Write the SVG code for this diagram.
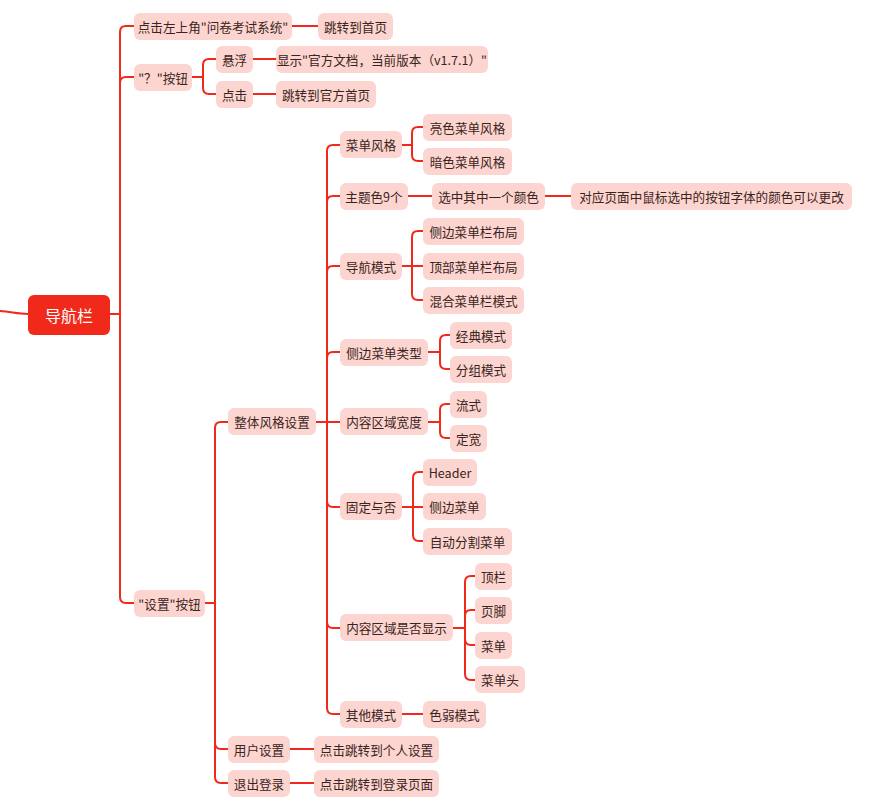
<svg xmlns="http://www.w3.org/2000/svg" width="889" height="807" viewBox="0 0 889 807">
<style>
.b{fill:#fdd5d0}
.t{font-family:"Noto Sans CJK SC","Noto Sans",sans-serif;font-size:12.6px;fill:#3a2420;text-anchor:middle;dominant-baseline:central}
.c{fill:none;stroke:#f0291b;stroke-width:2;stroke-linejoin:round;stroke-linecap:round}
</style>
<rect width="889" height="807" fill="#ffffff"/>
<g id="connectors" class="c">
<path d="M0,311 C12,312 18,314 28,314"/>
<path d="M110,314 H120 V32 Q120,26 126,26 H134"/>
<path d="M110,314 H120 V83 Q120,77 126,77 H134"/>
<path d="M110,314 H120 V597 Q120,603 126,603 H134"/>
<path d="M292,26 H318"/>
<path d="M192,77 H203 V65 Q203,59 209,59 H216"/>
<path d="M192,77 H203 V88 Q203,94 209,94 H216"/>
<path d="M253,59 H276"/>
<path d="M253,94 H276"/>
<path d="M205,603 H215 V428 Q215,422 221,422 H228"/>
<path d="M205,603 H215 V743 Q215,749 221,749 H228"/>
<path d="M205,603 H215 V777 Q215,783 221,783 H228"/>
<path d="M290,749 H314"/>
<path d="M290,783 H314"/>
<path d="M316,422 H327 V151 Q327,145 333,145 H340"/>
<path d="M316,422 H327 V202 Q327,196 333,196 H340"/>
<path d="M316,422 H327 V272 Q327,266 333,266 H340"/>
<path d="M316,422 H327 V358 Q327,352 333,352 H340"/>
<path d="M316,422 H340"/>
<path d="M316,422 H327 V501 Q327,507 333,507 H340"/>
<path d="M316,422 H327 V622 Q327,628 333,628 H340"/>
<path d="M316,422 H327 V708 Q327,714 333,714 H340"/>
<path d="M402,145 H412 V133 Q412,127 418,127 H423"/>
<path d="M402,145 H412 V155 Q412,161 418,161 H423"/>
<path d="M408,196 H432"/>
<path d="M545,196 H571"/>
<path d="M402,266 H412 V237 Q412,231 418,231 H423"/>
<path d="M402,266 H423"/>
<path d="M402,266 H412 V294 Q412,300 418,300 H423"/>
<path d="M428,352 H440 V341 Q440,335 446,335 H450"/>
<path d="M428,352 H440 V363 Q440,369 446,369 H450"/>
<path d="M428,422 H440 V410 Q440,404 446,404 H450"/>
<path d="M428,422 H440 V432 Q440,438 446,438 H450"/>
<path d="M402,507 H413 V478 Q413,472 419,472 H423"/>
<path d="M402,507 H423"/>
<path d="M402,507 H413 V535 Q413,541 419,541 H423"/>
<path d="M453,628 H465 V582 Q465,576 471,576 H475"/>
<path d="M453,628 H465 V616 Q465,610 471,610 H475"/>
<path d="M453,628 H465 V639 Q465,645 471,645 H475"/>
<path d="M453,628 H465 V674 Q465,680 471,680 H475"/>
<path d="M402,714 H423"/>
</g>
<g id="root"><rect x="28" y="295" width="82" height="40" rx="6" fill="#f0291b"/><text x="69" y="315" class="t" style="fill:#fff;font-size:16px">导航栏</text></g>
<g id="n1"><rect class="b" x="134" y="13" width="158" height="27" rx="6"/><text class="t" x="213" y="26.5">点击左上角"问卷考试系统"</text></g>
<g id="n1a"><rect class="b" x="318" y="13" width="75" height="27" rx="6"/><text class="t" x="355.5" y="26.5">跳转到首页</text></g>
<g id="n2"><rect class="b" x="134" y="64" width="58" height="27" rx="6"/><text class="t" x="163" y="77.5">"？"按钮</text></g>
<g id="n2a"><rect class="b" x="216" y="46" width="37" height="27" rx="6"/><text class="t" x="234.5" y="59.5">悬浮</text></g>
<g id="n2a1"><rect class="b" x="276" y="46" width="212" height="27" rx="6"/><text class="t" x="382" y="59.5">显示"官方文档，当前版本（v1.7.1）"</text></g>
<g id="n2b"><rect class="b" x="216" y="81" width="37" height="27" rx="6"/><text class="t" x="234.5" y="94.5">点击</text></g>
<g id="n2b1"><rect class="b" x="276" y="81" width="100" height="27" rx="6"/><text class="t" x="326" y="94.5">跳转到官方首页</text></g>
<g id="n3"><rect class="b" x="134" y="590" width="71" height="27" rx="6"/><text class="t" x="169.5" y="603.5">"设置"按钮</text></g>
<g id="n3a"><rect class="b" x="228" y="408" width="88" height="27" rx="6"/><text class="t" x="272" y="421.5">整体风格设置</text></g>
<g id="n3b"><rect class="b" x="228" y="736" width="62" height="27" rx="6"/><text class="t" x="259" y="749.5">用户设置</text></g>
<g id="n3b1"><rect class="b" x="314" y="736" width="125" height="27" rx="6"/><text class="t" x="376.5" y="749.5">点击跳转到个人设置</text></g>
<g id="n3c"><rect class="b" x="228" y="770" width="62" height="27" rx="6"/><text class="t" x="259" y="783.5">退出登录</text></g>
<g id="n3c1"><rect class="b" x="314" y="770" width="125" height="27" rx="6"/><text class="t" x="376.5" y="783.5">点击跳转到登录页面</text></g>
<g id="a"><rect class="b" x="340" y="131" width="62" height="27" rx="6"/><text class="t" x="371" y="144.5">菜单风格</text></g>
<g id="a1"><rect class="b" x="423" y="114" width="89" height="27" rx="6"/><text class="t" x="467.5" y="127.5">亮色菜单风格</text></g>
<g id="a2"><rect class="b" x="423" y="148" width="89" height="27" rx="6"/><text class="t" x="467.5" y="161.5">暗色菜单风格</text></g>
<g id="b"><rect class="b" x="340" y="183" width="68" height="27" rx="6"/><text class="t" x="374" y="196.5">主题色9个</text></g>
<g id="b1"><rect class="b" x="432" y="183" width="113" height="27" rx="6"/><text class="t" x="488.5" y="196.5">选中其中一个颜色</text></g>
<g id="b2"><rect class="b" x="571" y="183" width="281" height="27" rx="6"/><text class="t" x="711.5" y="196.5">对应页面中鼠标选中的按钮字体的颜色可以更改</text></g>
<g id="c"><rect class="b" x="340" y="253" width="62" height="27" rx="6"/><text class="t" x="371" y="266.5">导航模式</text></g>
<g id="c1"><rect class="b" x="423" y="218" width="101" height="27" rx="6"/><text class="t" x="473.5" y="231.5">侧边菜单栏布局</text></g>
<g id="c2"><rect class="b" x="423" y="253" width="101" height="27" rx="6"/><text class="t" x="473.5" y="266.5">顶部菜单栏布局</text></g>
<g id="c3"><rect class="b" x="423" y="287" width="101" height="27" rx="6"/><text class="t" x="473.5" y="300.5">混合菜单栏模式</text></g>
<g id="d"><rect class="b" x="340" y="339" width="88" height="27" rx="6"/><text class="t" x="384" y="352.5">侧边菜单类型</text></g>
<g id="d1"><rect class="b" x="450" y="322" width="62" height="27" rx="6"/><text class="t" x="481" y="335.5">经典模式</text></g>
<g id="d2"><rect class="b" x="450" y="356" width="62" height="27" rx="6"/><text class="t" x="481" y="369.5">分组模式</text></g>
<g id="e"><rect class="b" x="340" y="408" width="88" height="27" rx="6"/><text class="t" x="384" y="421.5">内容区域宽度</text></g>
<g id="e1"><rect class="b" x="450" y="391" width="37" height="27" rx="6"/><text class="t" x="468.5" y="404.5">流式</text></g>
<g id="e2"><rect class="b" x="450" y="425" width="37" height="27" rx="6"/><text class="t" x="468.5" y="438.5">定宽</text></g>
<g id="f"><rect class="b" x="340" y="493" width="62" height="27" rx="6"/><text class="t" x="371" y="506.5">固定与否</text></g>
<g id="f1"><rect class="b" x="423" y="459" width="54" height="27" rx="6"/><text class="t" x="450" y="472.5">Header</text></g>
<g id="f2"><rect class="b" x="423" y="493" width="63" height="27" rx="6"/><text class="t" x="454.5" y="506.5">侧边菜单</text></g>
<g id="f3"><rect class="b" x="423" y="528" width="89" height="27" rx="6"/><text class="t" x="467.5" y="541.5">自动分割菜单</text></g>
<g id="g"><rect class="b" x="340" y="614" width="113" height="27" rx="6"/><text class="t" x="396.5" y="627.5">内容区域是否显示</text></g>
<g id="g1"><rect class="b" x="475" y="563" width="37" height="27" rx="6"/><text class="t" x="493.5" y="576.5">顶栏</text></g>
<g id="g2"><rect class="b" x="475" y="597" width="37" height="27" rx="6"/><text class="t" x="493.5" y="610.5">页脚</text></g>
<g id="g3"><rect class="b" x="475" y="632" width="37" height="27" rx="6"/><text class="t" x="493.5" y="645.5">菜单</text></g>
<g id="g4"><rect class="b" x="475" y="666" width="50" height="27" rx="6"/><text class="t" x="500" y="679.5">菜单头</text></g>
<g id="h"><rect class="b" x="340" y="701" width="62" height="27" rx="6"/><text class="t" x="371" y="714.5">其他模式</text></g>
<g id="h1"><rect class="b" x="423" y="701" width="63" height="27" rx="6"/><text class="t" x="454.5" y="714.5">色弱模式</text></g>
</svg>
